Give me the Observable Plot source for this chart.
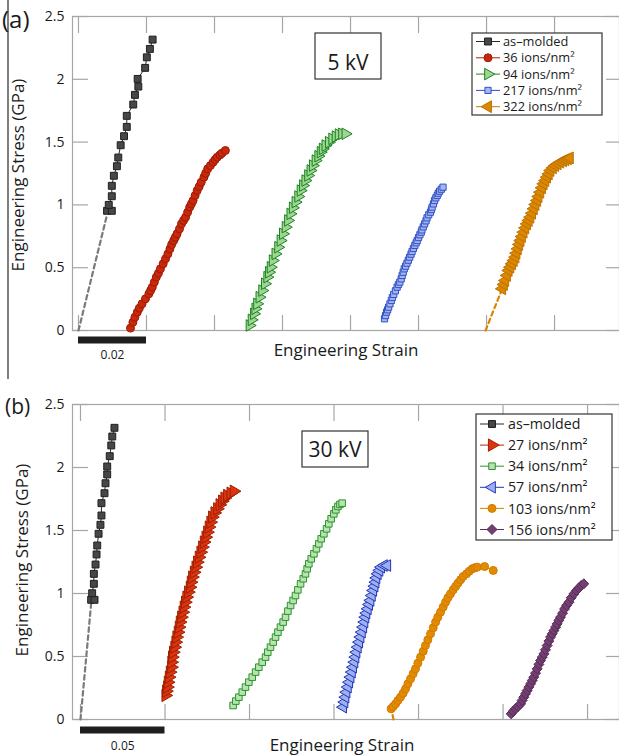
<!DOCTYPE html>
<html><head><meta charset="utf-8">
<script src="https://cdn.jsdelivr.net/npm/d3@7"></script>
<script src="https://cdn.jsdelivr.net/npm/@observablehq/plot@0.6"></script>
<style>
html,body{margin:0;padding:0;background:#fff;overflow:hidden;}
#fig{position:relative;width:619px;height:755px;overflow:hidden;font-family:"Open Sans",Lato,sans-serif;color:#1a1a1a;}
#fig > div, #fig > svg{position:absolute;left:0;}
</style></head>
<body><div id="fig"><div id="pa" style="top:0"></div><div id="pb" style="top:370px"></div></div>
<script>
// ---------- data (strain, stress GPa) ----------
const yTicks = [0, 0.5, 1, 1.5, 2, 2.5];
const xTicksA = [0, 0.02, 0.04, 0.06, 0.08, 0.10, 0.12, 0.14];
const xTicksB = [0, 0.05, 0.10, 0.15, 0.20, 0.25, 0.30];
const barA = {len: 0.02, label: "0.02"};
const barB = {len: 0.05, label: "0.05"};
const legendA = ["as\u2013molded", "36 ions/nm\u00b2", "94 ions/nm\u00b2", "217 ions/nm\u00b2", "322 ions/nm\u00b2"];
const legendB = ["as\u2013molded", "27 ions/nm\u00b2", "34 ions/nm\u00b2", "57 ions/nm\u00b2", "103 ions/nm\u00b2", "156 ions/nm\u00b2"];

const a_asMoldedToe = [[0, 0], [0.0082, 0.90]];
const a_asMolded = [[0.0084,0.953],[0.0098,0.953],[0.0089,1.000],[0.0098,1.069],[0.0098,1.152],[0.0104,1.232],[0.0113,1.308],[0.0117,1.377],[0.0124,1.475],[0.0134,1.547],[0.0142,1.621],[0.0142,1.709],[0.0161,1.799],[0.0166,1.876],[0.0176,1.942],[0.0174,2.003],[0.0196,2.091],[0.0201,2.175],[0.0210,2.242],[0.0218,2.316]];
const a_36 = [[0.0153,0.019],[0.0160,0.066],[0.0166,0.106],[0.0173,0.146],[0.0179,0.178],[0.0187,0.212],[0.0197,0.252],[0.0207,0.292],[0.0212,0.318],[0.0217,0.345],[0.0223,0.385],[0.0229,0.425],[0.0235,0.456],[0.0241,0.491],[0.0249,0.531],[0.0256,0.571],[0.0263,0.610],[0.0269,0.650],[0.0274,0.685],[0.0280,0.716],[0.0285,0.743],[0.0290,0.770],[0.0297,0.809],[0.0303,0.849],[0.0309,0.876],[0.0315,0.902],[0.0321,0.942],[0.0327,0.982],[0.0332,1.008],[0.0337,1.035],[0.0343,1.075],[0.0349,1.114],[0.0355,1.146],[0.0361,1.181],[0.0369,1.221],[0.0374,1.252],[0.0380,1.287],[0.0388,1.313],[0.0396,1.340],[0.0402,1.361],[0.0408,1.380],[0.0416,1.398],[0.0422,1.412],[0.0432,1.433]];
const a_94 = [[0.0503,0.040],[0.0509,0.085],[0.0516,0.133],[0.0520,0.173],[0.0525,0.212],[0.0532,0.265],[0.0540,0.318],[0.0548,0.372],[0.0555,0.425],[0.0560,0.464],[0.0565,0.504],[0.0571,0.557],[0.0579,0.610],[0.0587,0.663],[0.0594,0.716],[0.0601,0.770],[0.0609,0.823],[0.0616,0.876],[0.0623,0.929],[0.0630,0.977],[0.0638,1.022],[0.0646,1.067],[0.0653,1.114],[0.0660,1.154],[0.0667,1.194],[0.0675,1.234],[0.0682,1.274],[0.0689,1.313],[0.0697,1.353],[0.0705,1.388],[0.0712,1.420],[0.0718,1.446],[0.0726,1.473],[0.0736,1.499],[0.0746,1.526],[0.0756,1.544],[0.0765,1.560],[0.0775,1.566],[0.0785,1.566]];
const a_217 = [[0.0900,0.093],[0.0903,0.119],[0.0906,0.146],[0.0909,0.165],[0.0912,0.186],[0.0916,0.212],[0.0920,0.239],[0.0923,0.263],[0.0927,0.287],[0.0932,0.316],[0.0937,0.345],[0.0941,0.366],[0.0945,0.385],[0.0949,0.411],[0.0952,0.438],[0.0955,0.464],[0.0958,0.491],[0.0962,0.512],[0.0966,0.536],[0.0970,0.560],[0.0974,0.584],[0.0978,0.608],[0.0981,0.629],[0.0985,0.653],[0.0989,0.677],[0.0993,0.698],[0.0996,0.716],[0.1000,0.740],[0.1004,0.762],[0.1008,0.783],[0.1010,0.801],[0.1014,0.825],[0.1018,0.849],[0.1022,0.873],[0.1025,0.897],[0.1030,0.921],[0.1035,0.942],[0.1038,0.963],[0.1040,0.982],[0.1044,1.008],[0.1047,1.035],[0.1051,1.056],[0.1055,1.075],[0.1058,1.093],[0.1062,1.109],[0.1067,1.125],[0.1072,1.141]];
const a_322Toe = [[0.1197, 0], [0.1246, 0.332]];
const a_322 = [[0.1246,0.332],[0.1251,0.366],[0.1255,0.398],[0.1260,0.438],[0.1265,0.478],[0.1270,0.504],[0.1275,0.531],[0.1280,0.557],[0.1285,0.584],[0.1288,0.616],[0.1292,0.650],[0.1296,0.685],[0.1300,0.716],[0.1304,0.748],[0.1309,0.783],[0.1314,0.817],[0.1319,0.849],[0.1324,0.876],[0.1329,0.902],[0.1334,0.934],[0.1339,0.969],[0.1344,1.003],[0.1349,1.035],[0.1353,1.067],[0.1358,1.101],[0.1363,1.136],[0.1368,1.168],[0.1373,1.194],[0.1378,1.221],[0.1383,1.247],[0.1388,1.274],[0.1395,1.295],[0.1402,1.313],[0.1409,1.327],[0.1417,1.340],[0.1425,1.351],[0.1432,1.359],[0.1439,1.367],[0.1445,1.374]];

const b_asMoldedToe = [[0, 0], [0.0063, 0.92]];
const b_asMolded = [[0.0063,0.950],[0.0083,0.950],[0.0069,1.002],[0.0079,1.077],[0.0079,1.156],[0.0089,1.230],[0.0095,1.310],[0.0099,1.381],[0.0107,1.474],[0.0118,1.545],[0.0124,1.619],[0.0124,1.717],[0.0142,1.796],[0.0148,1.875],[0.0158,1.945],[0.0158,2.008],[0.0173,2.090],[0.0182,2.175],[0.0188,2.246],[0.0201,2.315]];
const b_27 = [[0.0503,0.191],[0.0507,0.225],[0.0513,0.257],[0.0517,0.296],[0.0523,0.336],[0.0529,0.376],[0.0537,0.415],[0.0538,0.455],[0.0542,0.495],[0.0548,0.534],[0.0556,0.574],[0.0562,0.614],[0.0568,0.654],[0.0576,0.693],[0.0582,0.733],[0.0588,0.773],[0.0596,0.812],[0.0604,0.852],[0.0611,0.892],[0.0619,0.931],[0.0627,0.971],[0.0637,1.011],[0.0647,1.050],[0.0653,1.090],[0.0661,1.130],[0.0671,1.169],[0.0681,1.209],[0.0690,1.249],[0.0700,1.288],[0.0710,1.328],[0.0720,1.368],[0.0730,1.408],[0.0740,1.447],[0.0750,1.487],[0.0759,1.527],[0.0769,1.566],[0.0779,1.606],[0.0793,1.640],[0.0809,1.672],[0.0823,1.704],[0.0838,1.733],[0.0852,1.757],[0.0868,1.778],[0.0888,1.796],[0.0907,1.812]];
const b_34 = [[0.0903,0.111],[0.0919,0.146],[0.0937,0.177],[0.0957,0.217],[0.0976,0.257],[0.0996,0.296],[0.1016,0.336],[0.1036,0.376],[0.1055,0.415],[0.1075,0.455],[0.1095,0.495],[0.1108,0.534],[0.1124,0.574],[0.1140,0.614],[0.1154,0.654],[0.1168,0.693],[0.1183,0.733],[0.1199,0.773],[0.1213,0.812],[0.1227,0.860],[0.1243,0.905],[0.1258,0.945],[0.1272,0.984],[0.1286,1.029],[0.1302,1.077],[0.1318,1.117],[0.1331,1.156],[0.1341,1.196],[0.1351,1.236],[0.1365,1.275],[0.1381,1.315],[0.1396,1.355],[0.1410,1.394],[0.1424,1.434],[0.1440,1.474],[0.1456,1.513],[0.1469,1.553],[0.1483,1.593],[0.1499,1.632],[0.1511,1.664],[0.1523,1.691],[0.1535,1.707],[0.1548,1.717]];
const b_57 = [[0.1554,0.098],[0.1562,0.138],[0.1568,0.177],[0.1574,0.217],[0.1582,0.257],[0.1590,0.296],[0.1598,0.336],[0.1606,0.376],[0.1613,0.415],[0.1621,0.455],[0.1627,0.495],[0.1633,0.534],[0.1641,0.574],[0.1649,0.614],[0.1657,0.654],[0.1665,0.693],[0.1673,0.733],[0.1680,0.773],[0.1686,0.812],[0.1692,0.844],[0.1700,0.878],[0.1708,0.913],[0.1716,0.945],[0.1724,0.984],[0.1732,1.024],[0.1740,1.058],[0.1746,1.090],[0.1751,1.124],[0.1759,1.156],[0.1769,1.183],[0.1779,1.209],[0.1795,1.222],[0.1815,1.222]];
const b_103Toe = [[0.1852, 0], [0.1838, 0.085]];
const b_103 = [[0.1838,0.085],[0.1850,0.103],[0.1864,0.124],[0.1878,0.151],[0.1893,0.177],[0.1909,0.209],[0.1923,0.243],[0.1937,0.283],[0.1953,0.323],[0.1968,0.363],[0.1982,0.402],[0.1996,0.447],[0.2012,0.495],[0.2028,0.542],[0.2041,0.587],[0.2055,0.632],[0.2071,0.680],[0.2087,0.728],[0.2101,0.773],[0.2114,0.812],[0.2130,0.852],[0.2146,0.892],[0.2160,0.931],[0.2174,0.966],[0.2189,0.997],[0.2205,1.029],[0.2219,1.056],[0.2233,1.082],[0.2249,1.109],[0.2264,1.135],[0.2284,1.156],[0.2300,1.177],[0.2318,1.196],[0.2331,1.204],[0.2347,1.209],[0.2391,1.214],[0.2442,1.183]];
const b_156 = [[0.2548,0.045],[0.2560,0.066],[0.2574,0.085],[0.2588,0.103],[0.2604,0.124],[0.2613,0.151],[0.2623,0.177],[0.2633,0.204],[0.2643,0.230],[0.2653,0.257],[0.2663,0.283],[0.2673,0.310],[0.2682,0.336],[0.2692,0.368],[0.2702,0.402],[0.2712,0.437],[0.2722,0.468],[0.2732,0.495],[0.2742,0.521],[0.2751,0.553],[0.2761,0.587],[0.2771,0.622],[0.2781,0.654],[0.2791,0.680],[0.2801,0.706],[0.2811,0.733],[0.2820,0.759],[0.2830,0.786],[0.2840,0.812],[0.2852,0.844],[0.2864,0.878],[0.2876,0.905],[0.2890,0.931],[0.2903,0.966],[0.2919,0.997],[0.2935,1.024],[0.2949,1.045],[0.2963,1.064],[0.2978,1.077]];

// ---------- marker shapes ----------
const sqrt3 = Math.sqrt(3);
const triRight = {draw(c, size) { const y = -Math.sqrt(size / (sqrt3 * 3)); c.moveTo(-2 * y, 0); c.lineTo(y, -sqrt3 * y); c.lineTo(y, sqrt3 * y); c.closePath(); }};
const triLeft = {draw(c, size) { const y = -Math.sqrt(size / (sqrt3 * 3)); c.moveTo(2 * y, 0); c.lineTo(-y, -sqrt3 * y); c.lineTo(-y, sqrt3 * y); c.closePath(); }};

// ---------- styles ----------
const seriesA = [
  {data: a_asMolded, toe: a_asMoldedToe, toeColor: "#7a7a7a", sym: d3.symbolSquare, r: 3.9, fill: "#474747", stroke: "#1f1f1f", line: "#2a2a2a"},
  {data: a_36, sym: d3.symbolCircle, r: 4, fill: "#c8290c", stroke: "#9c1a04", line: "#b02008"},
  {data: a_94, sym: triRight, r: 4.3, fill: "#9fd496", stroke: "#17861a", line: "#17861a"},
  {data: a_217, sym: d3.symbolSquare, r: 3.5, fill: "#a3b4f2", stroke: "#3150c4", line: "#3150c4"},
  {data: a_322, toe: a_322Toe, toeColor: "#d88600", sym: triLeft, r: 4.4, fill: "#d98800", stroke: "#bf6f00", line: "#c87800"}
];
const seriesB = [
  {data: b_asMolded, toe: b_asMoldedToe, toeColor: "#7a7a7a", sym: d3.symbolSquare, r: 3.9, fill: "#474747", stroke: "#1f1f1f", line: "#2a2a2a"},
  {data: b_27, sym: triRight, r: 4.6, fill: "#dc3410", stroke: "#9e2000", line: "#b82408"},
  {data: b_34, sym: d3.symbolSquare, r: 3.7, fill: "#b9e1b1", stroke: "#2a962a", line: "#2a962a"},
  {data: b_57, sym: triLeft, r: 4.3, fill: "#9eafee", stroke: "#2034bc", line: "#2034bc"},
  {data: b_103, toe: b_103Toe, toeColor: "#d88600", sym: d3.symbolCircle, r: 4, fill: "#e38b00", stroke: "#d07a00", line: "#d88200"},
  {data: b_156, sym: d3.symbolDiamond2, r: 4.5, fill: "#713f70", stroke: "#5a2b5a", line: "#5a2b5a"}
];

const axisGray = "#a6a6a6";
const FONT = "'Open Sans', Lato, sans-serif";
function makePanel({series, xDomain, xTicks, height, marginTop, marginBottom, bar, barDy, labelDy}) {
  const X = d => d[0], Y = d => d[1];
  const marks = [
    Plot.frame({stroke: axisGray, strokeWidth: 1.2}),
    Plot.axisX(xTicks, {anchor: "bottom", tickSize: -15, tickFormat: () => "", stroke: axisGray, strokeWidth: 1.2, label: null}),
    Plot.axisX(xTicks, {anchor: "top", tickSize: -16, tickFormat: () => "", stroke: axisGray, strokeWidth: 1.2, label: null}),
    Plot.axisY(yTicks, {anchor: "left", tickSize: -16, tickFormat: () => "", stroke: axisGray, strokeWidth: 1.2, label: null}),
    Plot.axisY(yTicks, {anchor: "right", tickSize: -14, tickFormat: () => "", stroke: axisGray, strokeWidth: 1.2, label: null}),
    Plot.axisY(yTicks, {anchor: "left", tickSize: 0, tickPadding: 8, tickFormat: d => String(d), fontSize: 14, fill: "#1a1a1a", label: null}),
    Plot.ruleY([bar], {y: d => 0, x1: d => 0, x2: d => d.len, dy: barDy, stroke: "#1e1e1e", strokeWidth: 7}),
    Plot.text([bar], {x: d => d.len / 2, y: d => 0, dy: labelDy, text: d => d.label, fontSize: 12, fill: "#1a1a1a"})
  ];
  for (const s of series) {
    if (s.toe) marks.push(Plot.line(s.toe, {x: X, y: Y, stroke: s.toeColor, strokeWidth: 2.2, strokeDasharray: "4.5,3.5"}));
    marks.push(Plot.line(s.data, {x: X, y: Y, stroke: s.line, strokeWidth: 1}));
    marks.push(Plot.dot(s.data, {x: X, y: Y, symbol: s.sym, r: s.r, fill: s.fill, stroke: s.stroke, strokeWidth: 1}));
  }
  return Plot.plot({
    width: 619, height, marginTop, marginBottom, marginLeft: 72, marginRight: 0,
    x: {domain: xDomain}, y: {domain: [0, 2.5]},
    style: {fontFamily: FONT, background: "transparent", overflow: "visible"},
    marks
  });
}

document.getElementById("pa").append(makePanel({series: seriesA, xDomain: [-0.00176, 0.1591], xTicks: xTicksA, height: 370, marginTop: 16, marginBottom: 40, bar: barA, barDy: 9.5, labelDy: 25}));
document.getElementById("pb").append(makePanel({series: seriesB, xDomain: [-0.00473, 0.3189], xTicks: xTicksB, height: 385, marginTop: 34, marginBottom: 36, bar: barB, barDy: 10.5, labelDy: 27}));

// ---------- overlay: labels, boxes, legends ----------
const ov = d3.select("#fig").append("svg").attr("width", 619).attr("height", 755).style("top", "0px")
  .style("font-family", FONT).attr("fill", "#1a1a1a");
ov.append("line").attr("x1", 8).attr("x2", 8).attr("y1", 0).attr("y2", 379).attr("stroke", "#3a3a3a").attr("stroke-width", 1.3);
ov.append("text").attr("x", 2).attr("y", 28).attr("font-size", 24).text("(a)");
ov.append("text").attr("x", 5).attr("y", 414).attr("font-size", 21).text("(b)");
ov.append("text").attr("x", 346).attr("y", 356).attr("font-size", 17).attr("text-anchor", "middle").text("Engineering Strain");
ov.append("text").attr("x", 342).attr("y", 751).attr("font-size", 17).attr("text-anchor", "middle").text("Engineering Strain");
ov.append("text").attr("transform", "translate(24,175) rotate(-90)").attr("font-size", 17).attr("text-anchor", "middle").text("Engineering Stress (GPa)");
ov.append("text").attr("transform", "translate(27.5,560) rotate(-90)").attr("font-size", 17).attr("text-anchor", "middle").text("Engineering Stress (GPa)");

function tagBox(x, y, w, h, label, baseline) {
  ov.append("rect").attr("x", x).attr("y", y).attr("width", w).attr("height", h).attr("fill", "#fff").attr("stroke", "#333").attr("stroke-width", 1.2);
  ov.append("text").attr("x", x + w / 2).attr("y", baseline).attr("font-size", 21).attr("text-anchor", "middle").text(label);
}
tagBox(315, 33, 66, 46, "5 kV", 70);
tagBox(302, 431, 66, 36, "30 kV", 457);

function legend(x, y, w, h, rowY, dy, lx1, lx2, tx, fs, series, labels) {
  ov.append("rect").attr("x", x).attr("y", y).attr("width", w).attr("height", h).attr("fill", "#fff").attr("stroke", "#333").attr("stroke-width", 1.2);
  series.forEach((s, i) => {
    const cy = rowY + i * dy;
    ov.append("line").attr("x1", lx1).attr("x2", lx2).attr("y1", cy).attr("y2", cy).attr("stroke", s.line).attr("stroke-width", 1);
    ov.append("path").attr("transform", `translate(${(lx1 + lx2) / 2},${cy})`)
      .attr("d", d3.symbol(s.sym, Math.PI * s.r * s.r)()).attr("fill", s.fill).attr("stroke", s.stroke);
    ov.append("text").attr("x", tx).attr("y", cy + fs * 0.36).attr("font-size", fs).text(labels[i]);
  });
}
legend(472, 33, 130, 82, 41.5, 16.3, 476, 500, 503, 12.8, seriesA, legendA);
legend(476, 414, 136, 126, 424, 21.1, 480, 504, 508, 14.2, seriesB, legendB);
</script></body></html>
